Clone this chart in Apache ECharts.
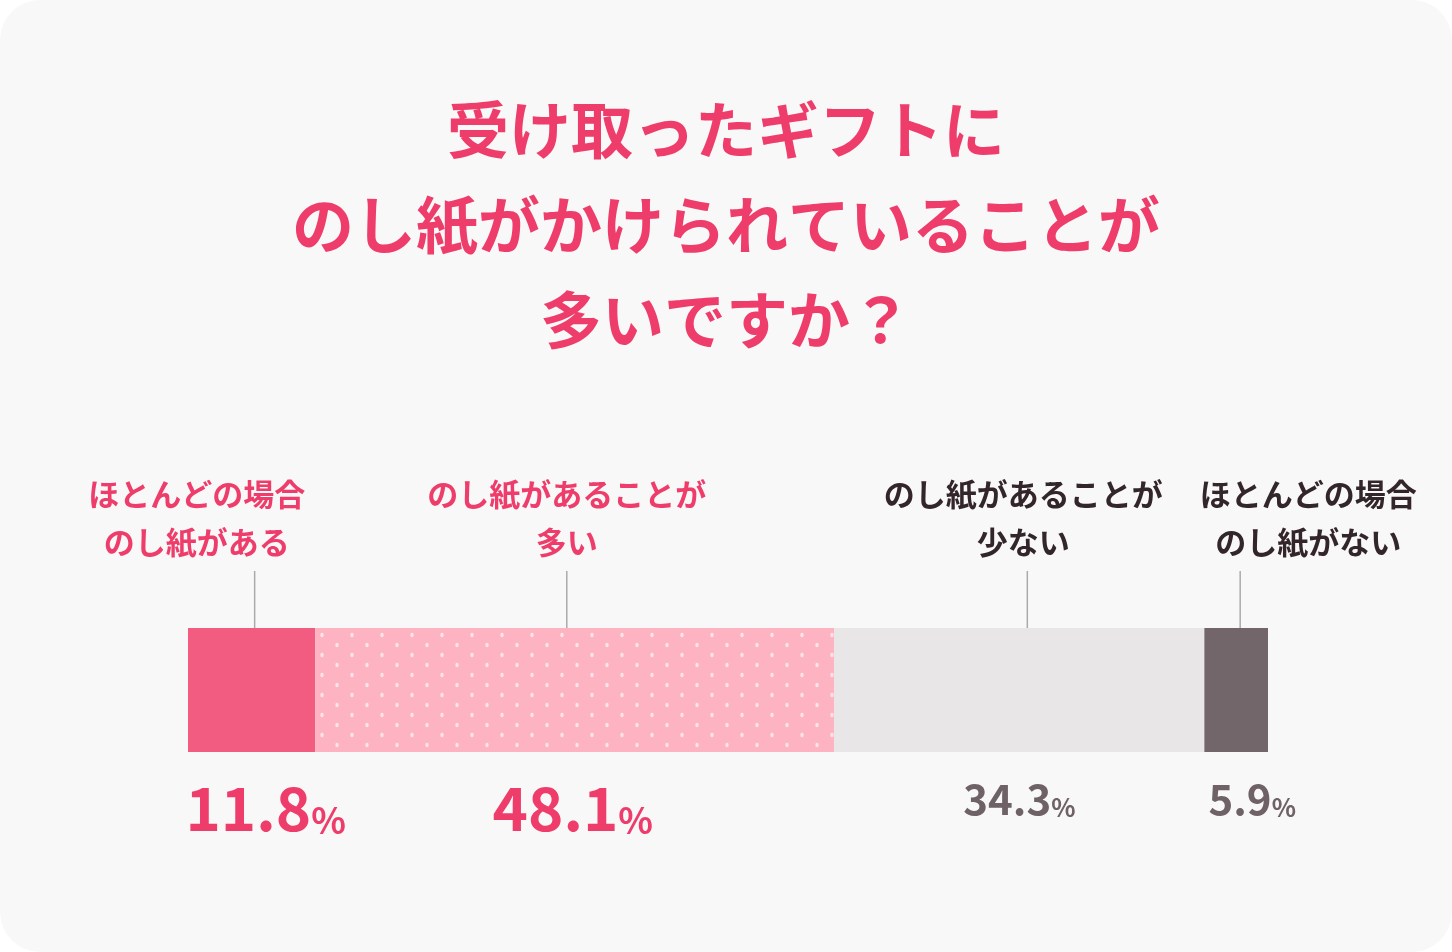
<!DOCTYPE html><html><head><meta charset="utf-8">
<script src="https://cdn.jsdelivr.net/npm/echarts@6/dist/echarts.min.js"></script>
<style>html,body{margin:0;background:#fff}#c{width:1452px;height:952px;background:#f8f8f8;border-radius:40px;overflow:hidden}</style>
</head><body><div id="c"></div><script>
const categories=['ほとんどの場合\nのし紙がある','のし紙があることが\n多い','のし紙があることが\n少ない','ほとんどの場合\nのし紙がない'];
const values=[11.8,48.1,34.3,5.9];
const colors=['#f25c80',null,'#e8e6e6','#73666a'];
const nameColors=['#ee3d6b','#ee3d6b','#33262a','#33262a'];
const pctColors=['#ee3d6b','#ee3d6b','#6e6266','#6e6266'];
const pctSizes=[60,60,42,42];
const pctOffsets=[14,-2,0,16];
const lineOffsets=[3,-8,8,4];
const titleText='受け取ったギフトに\nのし紙がかけられていることが\n多いですか？';
const FONT='"Noto Sans CJK JP","Noto Sans",sans-serif';
const pc=document.createElement('canvas');pc.width=30;pc.height=20;
const g=pc.getContext('2d');g.fillStyle='#fdb3c2';g.fillRect(0,0,30,20);g.fillStyle='#fde4ea';
[[7,5],[22,15]].forEach(([x,y])=>{g.beginPath();g.ellipse(x,y,1.7,2.3,0,0,Math.PI*2);g.fill();});
colors[1]={image:pc,repeat:'repeat'};
const chart=echarts.init(document.getElementById('c'));
const total=values.reduce((a,b)=>a+b,0);
chart.setOption({
 title:{text:titleText,left:'center',top:78,textStyle:{fontFamily:FONT,fontSize:62,fontWeight:'bold',color:'#ee3d6b',lineHeight:95}},
 grid:{left:188,width:1080,top:628,height:124},
 xAxis:{type:'value',min:0,max:total,show:false},
 yAxis:{type:'category',data:['a'],show:false},
 series:values.map((v,i)=>({type:'bar',stack:'s',barWidth:124,data:[v],itemStyle:{color:colors[i]},
  label:{show:true,position:'bottom',distance:26,offset:[pctOffsets[i],0],formatter:'{n|'+v.toFixed(1)+'}{p|%}',
   rich:{n:{fontFamily:FONT,fontSize:pctSizes[i],fontWeight:'bold',color:pctColors[i]},p:{fontFamily:FONT,fontSize:pctSizes[i]*0.6,fontWeight:'bold',color:pctColors[i],verticalAlign:'bottom'}}}}))
});
let cum=0;const els=[];
values.forEach((v,i)=>{
 const mid=chart.convertToPixel({gridIndex:0},[cum+v/2,0])[0];cum+=v;
 const x=mid+lineOffsets[i];
 els.push({type:'line',shape:{x1:x,y1:571,x2:x,y2:628},style:{stroke:'#aaaaaa',lineWidth:1.5}});
 els.push({type:'text',x:x+[-58,0,-4,68][i],y:518,style:{text:categories[i],fill:nameColors[i],font:'bold 31px '+FONT,align:'center',verticalAlign:'middle',lineHeight:48}});
});
chart.setOption({graphic:els});
</script></body></html>
